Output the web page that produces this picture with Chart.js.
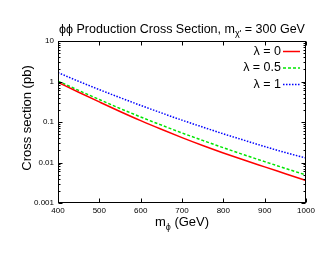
<!DOCTYPE html>
<html>
<head>
<meta charset="utf-8">
<script src="https://cdn.jsdelivr.net/npm/chart.js@4.4.0/dist/chart.umd.min.js"></script>
<style>
  html, body { margin: 0; padding: 0; background: #fff; }
  #wrap { width: 330px; height: 255px; position: relative; }
</style>
</head>
<body>
<div id="wrap"><canvas id="c" width="330" height="255"></canvas></div>
<script>
// ---- data ----
const masses = [400, 450, 500, 550, 600, 650, 700, 750, 800, 850, 900, 950, 1000];
const xsLambda0 = [0.955, 0.543, 0.313, 0.182, 0.108, 0.066, 0.0412, 0.0263, 0.0172, 0.0115, 0.0078, 0.0053, 0.0036];
const xsLambda05 = [1.023, 0.603, 0.359, 0.216, 0.133, 0.084, 0.0537, 0.0351, 0.0232, 0.0155, 0.0105, 0.00716, 0.0049];
const xsLambda1 = [1.66, 1.01, 0.63, 0.40, 0.257, 0.168, 0.111, 0.075, 0.051, 0.0355, 0.0248, 0.0176, 0.0129];
const seriesLabels = ['λ = 0', 'λ = 0.5', 'λ = 1'];
const xTickValues = [400, 500, 600, 700, 800, 900, 1000];
const yTickValues = [0.001, 0.01, 0.1, 1, 10];
const yTickLabels = ['0.001', '0.01', '0.1', '1', '10'];

const FONT = '"Liberation Sans", Arial, Helvetica, sans-serif';
const colors = ['#ff0000', '#00e600', '#0000ff'];
const dashes = [[], [3, 2], [1.5, 1.5]];

function pts(arr) { return masses.map((m, i) => ({ x: m, y: arr[i] })); }

const datasets = [xsLambda0, xsLambda05, xsLambda1].map((arr, i) => ({
  label: seriesLabels[i],
  data: pts(arr),
  borderColor: colors[i],
  borderWidth: 1.5,
  borderDash: dashes[i],
  pointRadius: 0,
  fill: false,
  cubicInterpolationMode: 'monotone'
}));

// custom decorations: frame with inward ticks, titles, legend
const decor = {
  id: 'decor',
  afterDraw(chart) {
    const ctx = chart.ctx;
    const a = chart.chartArea;
    const xs = chart.scales.x, ys = chart.scales.y;
    ctx.save();
    ctx.strokeStyle = '#000';
    ctx.lineWidth = 1;
    const L = Math.round(a.left) + 0.5, R = Math.round(a.right) - 0.5;
    const T = Math.round(a.top) + 0.5, B = Math.round(a.bottom) - 0.5;
    ctx.strokeRect(L, T, R - L, B - T);
    ctx.beginPath();
    xTickValues.forEach(v => {
      const px = Math.round(xs.getPixelForValue(v)) + 0.5;
      ctx.moveTo(px, B); ctx.lineTo(px, B - 4);
      ctx.moveTo(px, T); ctx.lineTo(px, T + 4);
    });
    for (let d = 0; d < yTickValues.length; d++) {
      const base = yTickValues[d];
      for (let k = 1; k <= 9; k++) {
        const v = base * k;
        if (v > yTickValues[yTickValues.length - 1] + 1e-9) break;
        const py = Math.round(ys.getPixelForValue(v)) + 0.5;
        const len = k === 1 ? 4 : 2;
        ctx.moveTo(L, py); ctx.lineTo(L + len, py);
        ctx.moveTo(R, py); ctx.lineTo(R - len, py);
      }
    }
    ctx.stroke();

    ctx.fillStyle = '#000';
    const cx = (a.left + a.right) / 2;
    drawParts(ctx, [
      { t: 'ϕϕ Production Cross Section, m', size: 12.5, dy: 0 },
      { t: 'χ\'', size: 9, dy: 3 },
      { t: ' = 300 GeV', size: 12.5, dy: 0 }
    ], cx, 33);

    drawParts(ctx, [
      { t: 'm', size: 13, dy: 0 },
      { t: 'ϕ', size: 9, dy: 4 },
      { t: ' (GeV)', size: 13, dy: 0 }
    ], cx, 226);

    ctx.save();
    ctx.translate(31, (a.top + a.bottom) / 2 - 4);
    ctx.rotate(-Math.PI / 2);
    ctx.font = '13px ' + FONT;
    ctx.textAlign = 'center';
    ctx.textBaseline = 'alphabetic';
    ctx.fillText('Cross section (pb)', 0, 0);
    ctx.restore();

    const rowsY = [51.5, 68, 84.5];
    ctx.font = '12.5px ' + FONT;
    ctx.textAlign = 'right';
    ctx.textBaseline = 'middle';
    chart.data.datasets.forEach((ds, i) => {
      ctx.fillStyle = '#000';
      ctx.fillText(ds.label, 281, rowsY[i]);
      ctx.beginPath();
      ctx.strokeStyle = ds.borderColor;
      ctx.lineWidth = 1.5;
      ctx.setLineDash(ds.borderDash);
      ctx.moveTo(283, rowsY[i]);
      ctx.lineTo(300, rowsY[i]);
      ctx.stroke();
      ctx.setLineDash([]);
    });
    ctx.restore();
  }
};

function drawParts(ctx, parts, cx, baseline) {
  let total = 0;
  parts.forEach(p => { ctx.font = p.size + 'px ' + FONT; p.w = ctx.measureText(p.t).width; total += p.w; });
  let x = cx - total / 2;
  ctx.textAlign = 'left';
  ctx.textBaseline = 'alphabetic';
  parts.forEach(p => {
    ctx.font = p.size + 'px ' + FONT;
    ctx.fillText(p.t, x, baseline + p.dy);
    x += p.w;
  });
}

new Chart(document.getElementById('c'), {
  type: 'line',
  data: { datasets },
  options: {
    responsive: false,
    animation: false,
    devicePixelRatio: 1,
    layout: { padding: { top: 41, right: 24, left: 0, bottom: 0 } },
    plugins: { legend: { display: false }, title: { display: false }, tooltip: { enabled: false } },
    scales: {
      x: {
        type: 'linear',
        min: 400, max: 1000,
        afterBuildTicks: s => { s.ticks = xTickValues.map(v => ({ value: v })); },
        afterFit: s => { s.height = 52; },
        grid: { display: false, drawTicks: false },
        border: { display: false },
        ticks: { font: { size: 8, family: FONT }, color: '#000', padding: 3, maxRotation: 0, autoSkip: false,
                  callback: v => String(v) }
      },
      y: {
        type: 'logarithmic',
        min: 0.001, max: 10,
        afterBuildTicks: s => { s.ticks = yTickValues.map(v => ({ value: v })); },
        afterFit: s => { s.width = 58; },
        grid: { display: false, drawTicks: false },
        border: { display: false },
        ticks: { font: { size: 8, family: FONT }, color: '#000', padding: 4, autoSkip: false,
                 callback: (v) => { const i = yTickValues.findIndex(t => Math.abs(t - v) / t < 1e-6); return i >= 0 ? yTickLabels[i] : ''; } }
      }
    }
  },
  plugins: [decor]
});
</script>
</body>
</html>
